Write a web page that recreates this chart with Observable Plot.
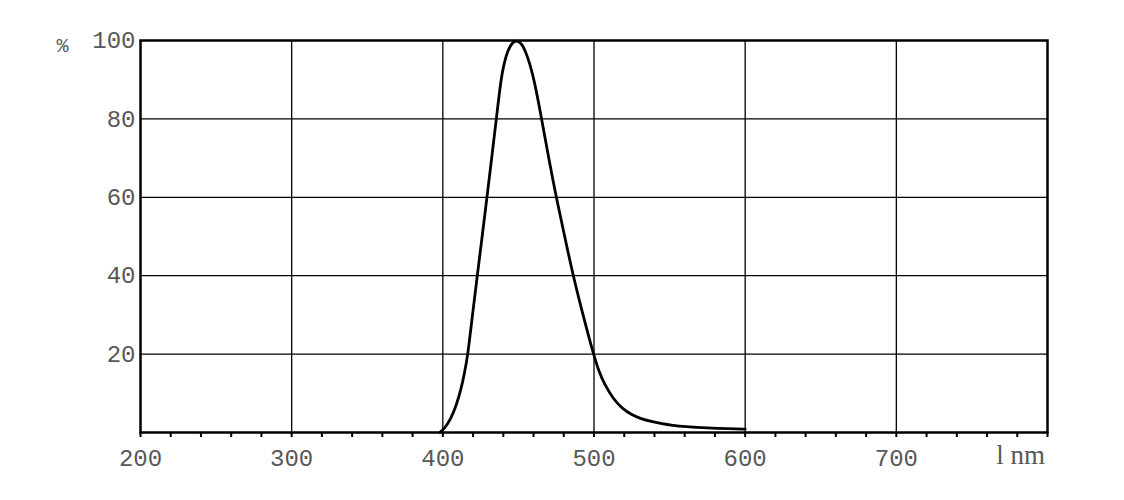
<!DOCTYPE html>
<html>
<head>
<meta charset="utf-8">
<script src="https://cdn.jsdelivr.net/npm/d3@7"></script>
<script src="https://cdn.jsdelivr.net/npm/@observablehq/plot@0.6"></script>
<style>
  html, body { margin: 0; padding: 0; background: #fff; }
  #chart { width: 1124px; height: 500px; }
</style>
</head>
<body>
<div id="chart"></div>
<script>
// Wavelength (nm) and relative intensity (%)
const wavelength = [398, 401, 405, 409, 412, 414.3, 416.6, 419.6, 422.8, 426, 429.2, 432.3, 435.4, 438.4, 440.5, 443, 446, 449, 452, 454.8, 457.6, 460.4, 465.4, 470, 475, 480.6, 486.2, 492.7, 499.6, 503.2, 506.8, 513, 519, 525, 531, 538, 545, 552, 560, 575, 590, 600];
const intensity  = [0, 1, 3.2, 7, 11, 15, 20, 30, 40, 50, 60, 70, 80, 90, 94.2, 97.5, 99.6, 100, 99.3, 97.2, 94, 90, 80, 70, 60, 50, 40, 30, 20, 15.6, 12.4, 8.4, 6, 4.5, 3.5, 2.8, 2.2, 1.8, 1.5, 1.15, 0.95, 0.85];

const xGrid = [300, 400, 500, 600, 700];
const yGrid = [20, 40, 60, 80];
const xLabels = [200, 300, 400, 500, 600, 700];
const yLabels = [20, 40, 60, 80, 100];
const xMinorTicks = d3.range(200, 801, 20);
const yUnit = "%";
const xUnit = "l nm";

const data = wavelength.map((w, i) => ({w, v: intensity[i]}));

const labelColor = "#585858";
const monoFont = "'Liberation Mono', 'DejaVu Sans Mono', monospace";

const chart = Plot.plot({
  width: 1124,
  height: 500,
  marginLeft: 140,
  marginRight: 77,
  marginTop: 40,
  marginBottom: 68,
  style: {fontFamily: monoFont, fontSize: "24px", background: "#fff", color: "#000"},
  x: {domain: [200, 800]},
  y: {domain: [0, 100]},
  marks: [
    Plot.ruleX(xGrid, {stroke: "#000", strokeWidth: 1.3}),
    Plot.ruleY(yGrid, {stroke: "#000", strokeWidth: 1.3}),
    Plot.axisX({ticks: xMinorTicks, tickSize: 5, tickFormat: null, label: null, stroke: "#000", strokeWidth: 2, text: null}),
    Plot.axisX({ticks: xLabels, tickSize: 0, tickPadding: 16, label: null, fill: labelColor, fontSize: 24, tickFormat: d => String(d)}),
    Plot.axisY({ticks: yLabels, tickSize: 0, tickPadding: 5, label: null, fill: labelColor, fontSize: 24, tickFormat: d => String(d)}),
    Plot.line(data, {x: "w", y: "v", curve: "basis", stroke: "#000", strokeWidth: 2.8}),
    Plot.frame({stroke: "#000", strokeWidth: 2.5}),
    Plot.text([yUnit], {frameAnchor: "top-left", lineAnchor: "middle", dx: -78, dy: 5, fill: labelColor, fontSize: 20, textAnchor: "middle"}),
    Plot.text([xUnit], {frameAnchor: "bottom-right", lineAnchor: "middle", dx: -27, dy: 23, fill: labelColor, fontSize: 27, fontFamily: "'Liberation Serif', serif", textAnchor: "middle"})
  ]
});

document.getElementById("chart").appendChild(chart);
</script>
</body>
</html>
